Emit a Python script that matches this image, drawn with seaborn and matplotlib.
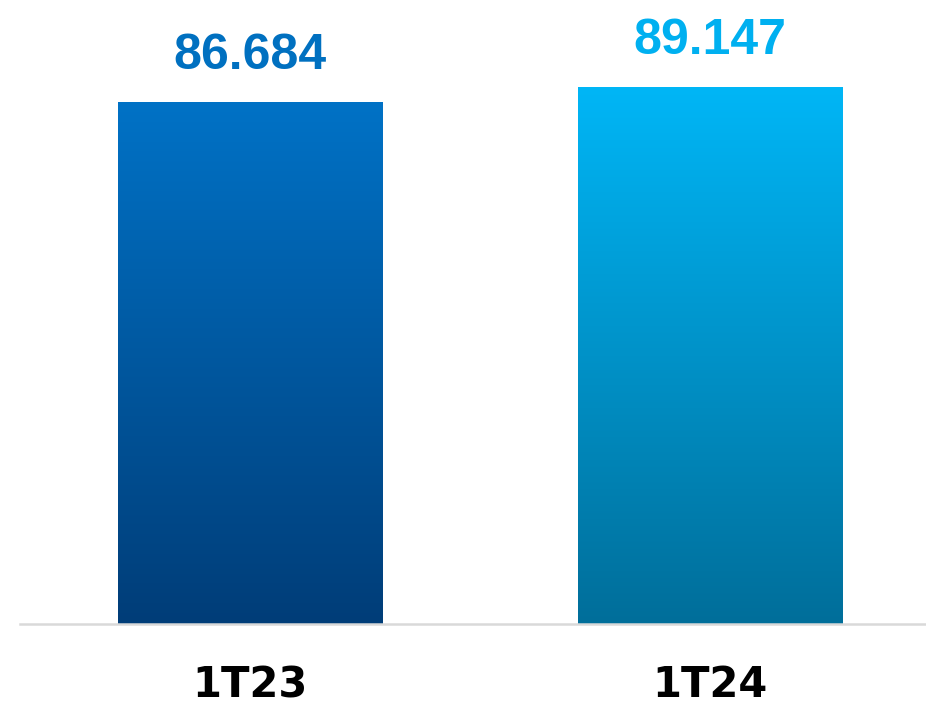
import numpy as np
import pandas as pd
import matplotlib
matplotlib.use("Agg")
import matplotlib.pyplot as plt
import seaborn as sns
from matplotlib.colors import LinearSegmentedColormap

# datos
trimestres = ["1T23", "1T24"]
valores = [86.684, 89.147]
etiquetas = ["86.684", "89.147"]
color_texto = ["#0070C0", "#00B0F0"]
color_arriba = ["#0072C6", "#00B6F6"]
color_abajo = ["#003D78", "#006E9A"]

sns.set_theme(style="white")

df = pd.DataFrame({"trimestre": trimestres, "valor": valores})

fig = plt.figure(figsize=(9.26, 7.06), dpi=100)
ax = fig.add_axes([20 / 926, 82 / 706, 906 / 926, 624 / 706])

sns.barplot(data=df, x="trimestre", y="valor", hue="trimestre",
            palette=color_arriba, width=0.574, legend=False, ax=ax)

ax.set_xlim(-0.5, 1.4696)
ax.set_ylim(0, 103.6)

# degradado vertical dentro de cada barra
for i, patch in enumerate(ax.patches):
    x0 = patch.get_x()
    w = patch.get_width()
    h = patch.get_height()
    cmap = LinearSegmentedColormap.from_list(f"g{i}", [color_abajo[i], color_arriba[i]])
    grad = np.linspace(0, 1, 256).reshape(-1, 1)
    img = ax.imshow(grad, cmap=cmap, aspect="auto", origin="lower",
                    extent=[x0, x0 + w, 0, h], zorder=patch.get_zorder() + 0.1)
    img.set_clip_path(patch)
    ax.annotate(etiquetas[i], (x0 + w / 2, h), xytext=(0, 23), textcoords="offset pixels",
                ha="center", va="bottom", fontsize=36, fontweight="bold",
                family=["Liberation Sans", "DejaVu Sans"], color=color_texto[i])

ax.set_xlim(-0.5, 1.4696)
ax.set_ylim(0, 103.6)

for s in ["top", "right", "left"]:
    ax.spines[s].set_visible(False)
ax.spines["bottom"].set_color("#D9D9D9")
ax.spines["bottom"].set_linewidth(1.8)

ax.set_yticks([])
ax.set_xlabel("")
ax.set_ylabel("")
ax.tick_params(axis="x", length=0, pad=29)
for lbl in ax.get_xticklabels():
    lbl.set_fontsize(30)
    lbl.set_fontweight("bold")
    lbl.set_family(["DejaVu Sans"])
    lbl.set_color("black")

fig.savefig("out.png", dpi=100, facecolor="white")
